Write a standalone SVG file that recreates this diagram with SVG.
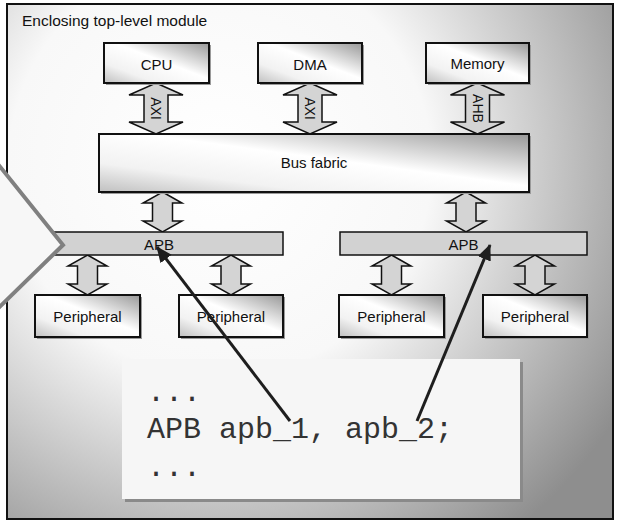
<svg xmlns="http://www.w3.org/2000/svg" width="617" height="522" viewBox="0 0 617 522">
<defs>
<radialGradient id="bg" cx="220" cy="165" r="470" gradientUnits="userSpaceOnUse">
<stop offset="0" stop-color="#ffffff"/>
<stop offset="0.45" stop-color="#f8f8f8"/>
<stop offset="1" stop-color="#8e8e8e"/>
</radialGradient>
<linearGradient id="box" x1="0" y1="1" x2="1" y2="0">
<stop offset="0" stop-color="#c0c0c0"/>
<stop offset="0.25" stop-color="#f2f2f2"/>
<stop offset="0.55" stop-color="#ffffff"/>
<stop offset="1" stop-color="#989898"/>
</linearGradient>
<marker id="ah" markerWidth="16" markerHeight="14" refX="15" refY="7" orient="auto" markerUnits="userSpaceOnUse">
<path d="M0,0 L16,7 L0,14 Z" fill="#1e1e1e"/>
</marker>
<path id="bigArrow" d="M0,0 L27,12 L12,12 L12,39 L27,39 L0,51 L-27,39 L-12,39 L-12,12 L-27,12 Z"/>
<path id="smallArrow" d="M0,0 L19.5,11 L10,11 L10,29 L19.5,29 L0,40 L-19.5,29 L-10,29 L-10,11 L-19.5,11 Z"/>
</defs>
<style>
.lbl{font-family:"Liberation Sans",Arial,sans-serif;font-size:15px;fill:#111;text-anchor:middle}
.box{fill:url(#box);stroke:#111;stroke-width:2}
.shadow{fill:#9a9a9a}
.bar{fill:#d2d2d2;stroke:#111;stroke-width:1.5}
.dbl{fill:#d4d4d4;stroke:#111;stroke-width:1.5;stroke-linejoin:miter}
.ptr{stroke:#1e1e1e;stroke-width:3;fill:none;marker-end:url(#ah)}
.code{font-family:"Liberation Mono","Courier New",monospace;font-size:30px;fill:#333}
</style>

<g id="frame">
<rect x="7" y="4" width="606" height="515" fill="url(#bg)" stroke="#111" stroke-width="2"/>
<text x="22" y="26" class="lbl" style="text-anchor:start;font-size:15.5px">Enclosing top-level module</text>
</g>

<g id="connectors">
<g class="dbl">
<use href="#bigArrow" transform="translate(156,83)"/>
<use href="#bigArrow" transform="translate(310,83)"/>
<use href="#bigArrow" transform="translate(477.5,83)"/>
<use href="#smallArrow" transform="translate(162.5,192)"/>
<use href="#smallArrow" transform="translate(466,192)"/>
<use href="#smallArrow" transform="translate(87.5,255)"/>
<use href="#smallArrow" transform="translate(231,255)"/>
<use href="#smallArrow" transform="translate(391.5,255)"/>
<use href="#smallArrow" transform="translate(535,255)"/>
</g>
<text class="lbl" style="font-size:14px" dominant-baseline="central" transform="translate(156,108.5) rotate(90)">AXI</text>
<text class="lbl" style="font-size:14px" dominant-baseline="central" transform="translate(310,108.5) rotate(90)">AXI</text>
<text class="lbl" style="font-size:14px" dominant-baseline="central" transform="translate(477.5,108.5) rotate(90)">AHB</text>
</g>

<g id="cpu">
<rect class="shadow" x="106" y="45" width="105" height="40"/>
<rect class="box" x="104" y="43" width="105" height="40"/>
<text class="lbl" x="156.5" y="70">CPU</text>
</g>
<g id="dma">
<rect class="shadow" x="260" y="45" width="104" height="40"/>
<rect class="box" x="258" y="43" width="104" height="40"/>
<text class="lbl" x="310" y="70">DMA</text>
</g>
<g id="memory">
<rect class="shadow" x="428" y="45" width="103" height="40"/>
<rect class="box" x="426" y="43" width="103" height="40"/>
<text class="lbl" x="477.5" y="69">Memory</text>
</g>
<g id="bus">
<rect class="shadow" x="101" y="136" width="430" height="58"/>
<rect class="box" x="99" y="134" width="430" height="58"/>
<text class="lbl" x="314" y="168">Bus fabric</text>
</g>
<g id="apb1">
<rect class="bar" x="35" y="232" width="248" height="23"/>
<text class="lbl" x="159" y="250">APB</text>
</g>
<g id="apb2">
<rect class="bar" x="340" y="232" width="247" height="23"/>
<text class="lbl" x="463.5" y="250">APB</text>
</g>
<g id="p1">
<rect class="shadow" x="37" y="297" width="105" height="42"/>
<rect class="box" x="35" y="295" width="105" height="42"/>
<text class="lbl" x="87.5" y="322">Peripheral</text>
</g>
<g id="p2">
<rect class="shadow" x="181" y="297" width="104" height="42"/>
<rect class="box" x="179" y="295" width="104" height="42"/>
<text class="lbl" x="231" y="322">Peripheral</text>
</g>
<g id="p3">
<rect class="shadow" x="341" y="297" width="105" height="42"/>
<rect class="box" x="339" y="295" width="105" height="42"/>
<text class="lbl" x="391.5" y="322">Peripheral</text>
</g>
<g id="p4">
<rect class="shadow" x="485" y="297" width="104" height="42"/>
<rect class="box" x="483" y="295" width="104" height="42"/>
<text class="lbl" x="535" y="322">Peripheral</text>
</g>

<g id="code">
<rect x="125" y="362" width="398" height="140" fill="#8a8a8a"/>
<rect x="122" y="359" width="398" height="140" fill="#f6f6f6"/>
<text class="code" x="147" y="401">...</text>
<text class="code" x="147" y="438">APB apb_1, apb_2;</text>
<text class="code" x="147" y="476">...</text>
</g>

<g id="pointers">
<line class="ptr" x1="290" y1="421" x2="157" y2="247"/>
<line class="ptr" x1="417" y1="421" x2="490" y2="245"/>
</g>

<g id="callout">
<polygon points="-20,141.7 63,245 -20,326" fill="#f7f7f7" stroke="#808080" stroke-width="4" stroke-linejoin="miter"/>
</g>
</svg>
